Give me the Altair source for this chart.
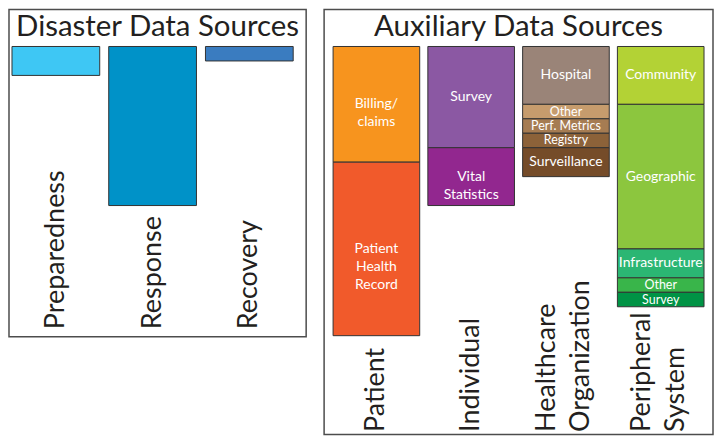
import altair as alt
import pandas as pd

FONT = "Lato"
TEXT_COLOR = "#231f20"

# ---- panel titles ----
panel_titles = ["Disaster Data Sources", "Auxiliary Data Sources"]

# ---- Disaster data sources ----
disaster_categories = ["Preparedness", "Response", "Recovery"]
disaster_values = [2, 11, 1]
disaster_colors = ["#3ec7f4", "#0092c8", "#3a7cc0"]

# ---- Auxiliary data sources ----
aux_groups = ["Patient", "Individual", "Healthcare Organization", "Peripheral System"]
patient_sources = ["Billing/\nclaims", "Patient\nHealth\nRecord"]
patient_values = [8, 12]
patient_colors = ["#f7941e", "#f15a2b"]
individual_sources = ["Survey", "Vital\nStatistics"]
individual_values = [7, 4]
individual_colors = ["#8b58a3", "#92278f"]
healthcare_sources = ["Hospital", "Other", "Perf. Metrics", "Registry", "Surveillance"]
healthcare_values = [4, 1, 1, 1, 2]
healthcare_colors = ["#9a8478", "#c69c6d", "#a67c52", "#8c6239", "#754c29"]
peripheral_sources = ["Community", "Geographic", "Infrastructure", "Other", "Survey"]
peripheral_values = [4, 10, 2, 1, 1]
peripheral_colors = ["#b3d235", "#8cc63e", "#2bb673", "#39b54a", "#009345"]

# ---- build tables ----
df1 = pd.DataFrame({"category": disaster_categories, "value": disaster_values,
                    "color": disaster_colors})
df1["start"] = 0
df1["end"] = df1["value"]

rows = []
for g, srcs, vals, cols in zip(
        aux_groups,
        [patient_sources, individual_sources, healthcare_sources, peripheral_sources],
        [patient_values, individual_values, healthcare_values, peripheral_values],
        [patient_colors, individual_colors, healthcare_colors, peripheral_colors]):
    acc = 0
    for s, v, c in zip(srcs, vals, cols):
        rows.append({"group": g, "source": s, "value": v, "color": c,
                     "start": acc, "end": acc + v, "mid": acc + v / 2})
        acc += v
df2 = pd.DataFrame(rows)

# ---- layout ----
W1, H1 = 298, 328
W2, H2 = 390, 426
UNIT = 14.5     # px per unit
TOP = 37        # px between panel top and bar top


def yscale(h):
    return alt.Scale(domain=[-TOP / UNIT, (h - TOP) / UNIT], reverse=True,
                     nice=False, zero=False)


def xaxis(offset):
    return alt.Axis(orient="bottom", labelAngle=270, labelAlign="left",
                    labelBaseline="middle", domain=False, ticks=False, tickSize=0,
                    labelPadding=0, offset=offset, labelFontSize=27, labelFont=FONT,
                    labelColor=TEXT_COLOR, labelLimit=0, labelLineHeight=34,
                    labelOverlap=False, grid=False,
                    labelOffset={"condition": {"test": "indexof(datum.label, ' ') >= 0",
                                               "value": -19}, "value": 0},
                    labelExpr="split(datum.label, ' ')", title=None)


def title_layer(t, w):
    return alt.Chart(pd.DataFrame({"t": [t]})).mark_text(
        fontSize=29.5, font=FONT, color=TEXT_COLOR, baseline="alphabetic",
        align="center").encode(x=alt.value(w / 2), y=alt.value(26), text="t:N")


bars1 = alt.Chart(df1).mark_bar(stroke="#333333", strokeWidth=1).encode(
    x=alt.X("category:N", sort=disaster_categories,
            scale=alt.Scale(range=[3, 285], paddingInner=0.093, paddingOuter=0),
            axis=xaxis(-8)),
    y=alt.Y("start:Q", scale=yscale(H1), axis=None),
    y2="end:Q",
    color=alt.Color("color:N", scale=None),
)
left = alt.layer(bars1, title_layer(panel_titles[0], W1)).properties(
    width=W1, height=H1)

xb2 = alt.X("group:N", sort=aux_groups,
            scale=alt.Scale(range=[9, 381], paddingInner=0.086, paddingOuter=0),
            axis=xaxis(-3))

bars2 = alt.Chart(df2).mark_bar(stroke="#333333", strokeWidth=1).encode(
    x=xb2,
    y=alt.Y("start:Q", scale=yscale(H2), axis=None),
    y2="end:Q",
    color=alt.Color("color:N", scale=None),
)
labels2 = alt.Chart(df2).mark_text(color="white", font=FONT,
                                   lineBreak="\n", lineHeight=18,
                                   baseline="middle").encode(
    x=xb2,
    y=alt.Y("mid:Q", scale=yscale(H2), axis=None),
    text="source:N",
    size=alt.condition("datum.value <= 1", alt.value(12.5), alt.value(14)),
)
right = alt.layer(bars2, labels2, title_layer(panel_titles[1], W2)).properties(
    width=W2, height=H2)

chart = alt.hconcat(left, right, spacing=16).properties(padding=0).configure_view(
    stroke="#4d4d4d", strokeWidth=1.5)

chart.save("out.html", embed_options={"renderer": "svg", "actions": False})
